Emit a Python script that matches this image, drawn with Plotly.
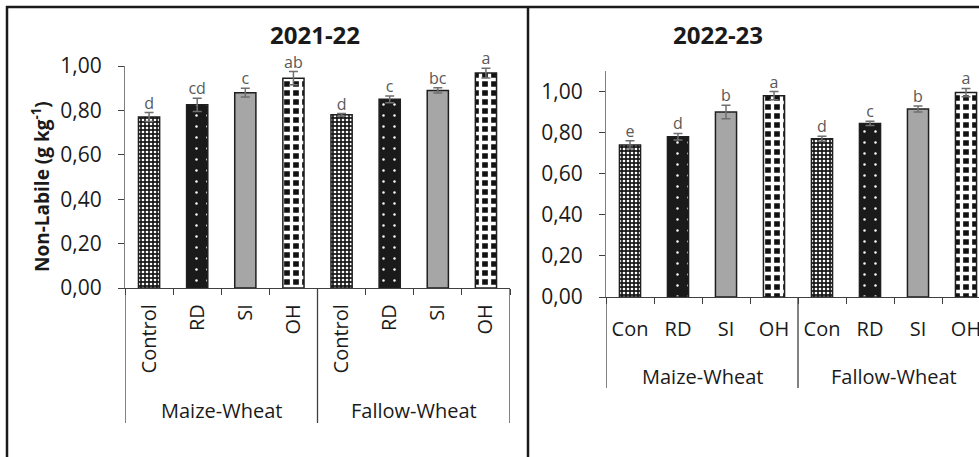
import plotly.graph_objects as go

W, H = 979, 457

treatments_left = ["Control", "RD", "SI", "OH", "Control", "RD", "SI", "OH"]
treatments_right = ["Con", "RD", "SI", "OH", "Con", "RD", "SI", "OH"]
systems = ["Maize-Wheat", "Fallow-Wheat"]

vals_2122 = [0.77, 0.825, 0.88, 0.945, 0.78, 0.85, 0.89, 0.968]
err_2122 = [0.02, 0.03, 0.02, 0.03, 0.006, 0.015, 0.012, 0.022]
letters_2122 = ["d", "cd", "c", "ab", "d", "c", "bc", "a"]

vals_2223 = [0.74, 0.78, 0.90, 0.98, 0.77, 0.845, 0.915, 0.995]
err_2223 = [0.02, 0.016, 0.033, 0.02, 0.012, 0.01, 0.015, 0.02]
letters_2223 = ["e", "d", "b", "a", "d", "c", "b", "a"]

ytick_vals = [0, 0.2, 0.4, 0.6, 0.8, 1.0]
ytick_text = ["0,00", "0,20", "0,40", "0,60", "0,80", "1,00"]

FONT = "Open Sans"
DARK = "#1f1f1f"
TXT = "#1a1a1a"

patterns = [
    dict(shape=".", fgcolor="white", bgcolor="#1a1a1a", size=4, solidity=0.35, fillmode="replace"),
    dict(shape=".", fgcolor="white", bgcolor="#1a1a1a", size=11, solidity=0.04, fillmode="replace"),
    dict(shape="", fgcolor="#a6a6a6", bgcolor="#a6a6a6"),
    dict(shape="+", fgcolor="white", bgcolor="#111111", size=9, solidity=0.6, fillmode="replace"),
]
base_colors = ["#1a1a1a", "#1a1a1a", "#a6a6a6", "#111111"]


def px_x(p):
    return p / W


def px_y(p):
    return 1 - p / H


fig = go.Figure()

for vals, errs, letters, xa, ya in [
    (vals_2122, err_2122, letters_2122, "x", "y"),
    (vals_2223, err_2223, letters_2223, "x2", "y2"),
]:
    xs = list(range(len(vals)))
    for k in range(4):
        idx = [i for i in xs if i % 4 == k]
        fig.add_trace(go.Bar(
            x=[xs[i] for i in idx], y=[vals[i] for i in idx],
            width=0.44, xaxis=xa, yaxis=ya,
            marker=dict(color=base_colors[k], pattern=patterns[k],
                        line=dict(color=DARK, width=1.5)),
            error_y=dict(type="data", array=[errs[i] for i in idx],
                         color="#6f6f6f", thickness=1.5, width=4.5),
            showlegend=False, hoverinfo="skip",
        ))
    fig.add_trace(go.Scatter(
        x=xs, y=[v + e for v, e in zip(vals, errs)], text=letters,
        mode="text", textposition="top center", xaxis=xa, yaxis=ya,
        textfont=dict(family=FONT, size=16, color="#595959"),
        cliponaxis=False, showlegend=False, hoverinfo="skip",
    ))

axis_col = "#404040"
common_x = dict(
    tickmode="array", tickvals=list(range(8)), ticks="", showgrid=False,
    zeroline=False, showline=True, linecolor=axis_col, linewidth=1.3,
    tickfont=dict(family=FONT, size=20, color=TXT),
    minor=dict(tickvals=[i - 0.5 for i in range(9)], ticks="outside",
               ticklen=6, tickcolor=axis_col, tickwidth=1.2),
    fixedrange=True, automargin=False, ticklabeloverflow="allow",
)
common_y = dict(
    tickmode="array", tickvals=ytick_vals, ticktext=ytick_text,
    ticks="outside", ticklen=6, tickcolor=axis_col, showgrid=False,
    zeroline=False, showline=True, linecolor="#7f7f7f", linewidth=1,
    tickfont=dict(family=FONT, size=21, color=TXT), fixedrange=True,
    automargin=False, ticklabelstandoff=12,
)

fig.update_layout(
    width=W, height=H, margin=dict(l=0, r=0, t=0, b=0, pad=0, autoexpand=False),
    paper_bgcolor="white", plot_bgcolor="white", bargap=0.5,
    xaxis=dict(common_x, domain=[px_x(125), px_x(510)], range=[-0.5, 7.5],
               anchor="y", ticktext=treatments_left, tickangle=-90,
               ticklabelstandoff=7),
    yaxis=dict(common_y, domain=[px_y(288), px_y(66)], range=[0, 1.0], anchor="x"),
    xaxis2=dict(common_x, domain=[px_x(606), 1.0],
                range=[-0.5, -0.5 + (979 - 606) / 48.0],
                anchor="y2", ticktext=treatments_right, tickangle=0,
                ticklabelstandoff=14),
    yaxis2=dict(common_y, domain=[px_y(297), px_y(71)], range=[0, 1.1], anchor="x2"),
)

shapes = []
for xv in [-0.5, 3.5, 7.5]:
    shapes.append(dict(type="line", xref="x", yref="paper", x0=xv, x1=xv,
                       y0=px_y(288), y1=px_y(423), line=dict(color=axis_col, width=1.3)))
for xv in [-0.5, 3.5]:
    shapes.append(dict(type="line", xref="x2", yref="paper", x0=xv, x1=xv,
                       y0=px_y(297), y1=px_y(388), line=dict(color=axis_col, width=1.3)))
shapes.append(dict(type="line", xref="paper", yref="paper", x0=px_x(6), x1=1,
                   y0=px_y(7), y1=px_y(7), line=dict(color=TXT, width=2.5)))
shapes.append(dict(type="line", xref="paper", yref="paper", x0=px_x(7), x1=px_x(7),
                   y0=px_y(6), y1=0, line=dict(color=TXT, width=2.5)))
shapes.append(dict(type="line", xref="paper", yref="paper", x0=px_x(528), x1=px_x(528),
                   y0=px_y(6), y1=0, line=dict(color=TXT, width=2.5)))
fig.update_layout(shapes=shapes)

annotations = [
    dict(text="<b>2021-22</b>", x=px_x(268), y=px_y(35), xref="paper", yref="paper",
         yanchor="middle", showarrow=False, font=dict(family=FONT, size=24, color=TXT)),
    dict(text="<b>2022-23</b>", x=px_x(765), y=px_y(35), xref="paper", yref="paper",
         yanchor="middle", showarrow=False, font=dict(family=FONT, size=24, color=TXT)),
    dict(text="<b>Non-Labile (g kg<sup>-1</sup>)</b>", x=px_x(41), y=px_y(187),
         xref="paper", yref="paper", textangle=-90, showarrow=False,
         xanchor="center", yanchor="middle", font=dict(family=FONT, size=19, color=TXT)),
]
for gi, name in enumerate(systems):
    annotations.append(dict(text=name, x=1.5 + 4 * gi, xref="x", y=px_y(410), yref="paper",
                            yanchor="middle", showarrow=False,
                            font=dict(family=FONT, size=20, color=TXT)))
    annotations.append(dict(text=name, x=1.5 + 4 * gi, xref="x2", y=px_y(376), yref="paper",
                            yanchor="middle", showarrow=False,
                            font=dict(family=FONT, size=20, color=TXT)))
fig.update_layout(annotations=annotations)

fig.write_html("out.html", config={"displayModeBar": False},
               post_script="document.body.style.margin='0';")
